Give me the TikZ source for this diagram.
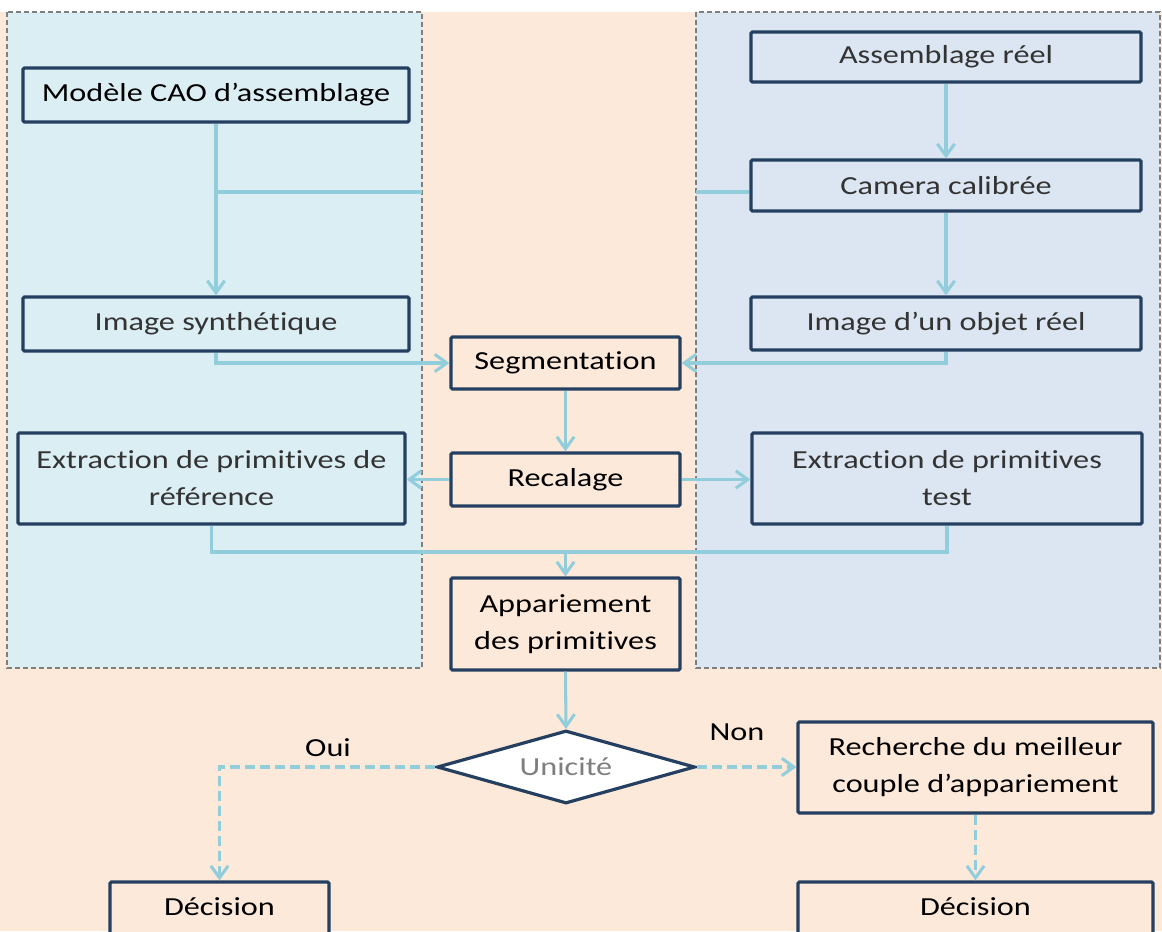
\documentclass[tikz,border=0pt]{standalone}
\usepackage{fontspec}
\setmainfont{Carlito}[FakeStretch=1.24, Ligatures=NoCommon]
\usetikzlibrary{arrows.meta,shapes.geometric}
\definecolor{peach}{HTML}{FDE9D9}
\definecolor{lblue}{HTML}{DAEEF3}
\definecolor{lgray}{HTML}{DCE6F2}
\definecolor{navy}{HTML}{243F60}
\definecolor{conn}{HTML}{92CDDC}
\definecolor{panelline}{HTML}{7F7F7F}
\definecolor{txtgray}{HTML}{333333}
\begin{document}
\begin{tikzpicture}[x=0.75pt,y=-0.75pt,
  box/.style={draw=navy, line width=2.4pt, rounded corners=1pt, inner sep=0pt,
    align=center, font=\fontsize{19.5}{27.75}\selectfont},
  panel/.style={draw=panelline, line width=1.3pt, dash pattern=on 4pt off 2pt},
  link/.style={draw=conn, line width=2.3pt},
  arr/.style={link, -{Straight Barb[length=9pt,width=13pt,line width=2.3pt]}},
  darr/.style={arr, dash pattern=on 7.5pt off 3.75pt},
  lbl/.style={font=\fontsize{19.5}{24}\selectfont, inner sep=0pt}
]
\useasboundingbox (0,0) rectangle (1162,931);
\clip (0,0) rectangle (1162,931);
\fill[white] (0,0) rectangle (1162,931);
\fill[peach] (0,12) rectangle (1162,931);
\filldraw[panel, fill=lblue] (7,12) rectangle (422,668);
\filldraw[panel, fill=lgray] (696,12) rectangle (1160,668);

% left column
\node[box, fill=lblue, minimum width=289.5pt, minimum height=40.5pt] (cao) at (216,95) {Modèle CAO d’assemblage};
\node[box, fill=lblue, text=txtgray, minimum width=289.5pt, minimum height=40.5pt] (synth) at (216,324) {Image synthétique};
\node[box, fill=lblue, text=txtgray, minimum width=290.25pt, minimum height=68.25pt] (extref) at (211.5,478.5) {Extraction de primitives de\\référence};

% right column
\node[box, fill=lgray, text=txtgray, minimum width=292.5pt, minimum height=37.5pt] (assemb) at (946,57) {Assemblage réel};
\node[box, fill=lgray, text=txtgray, minimum width=292.5pt, minimum height=38.25pt] (camera) at (946,185.5) {Camera calibrée};
\node[box, fill=lgray, text=txtgray, minimum width=292.5pt, minimum height=39.75pt] (objet) at (946,323.5) {Image d’un objet réel};
\node[box, fill=lgray, text=txtgray, minimum width=292.5pt, minimum height=68.25pt] (exttest) at (947,478.5) {Extraction de primitives\\test};

% centre column
\node[box, fill=peach, minimum width=171.75pt, minimum height=39pt] (seg) at (565.5,363) {Segmentation};
\node[box, fill=peach, minimum width=171.75pt, minimum height=39.75pt] (recal) at (565.5,479.5) {Recalage};
\node[box, fill=peach, minimum width=171.75pt, minimum height=69pt] (appar) at (565.5,624) {Appariement\\des primitives};
\node[diamond, draw=navy, line width=2.4pt, fill=white, inner sep=0pt, shape aspect=3.5,
  minimum width=193.5pt, minimum height=54.75pt, text=panelline,
  font=\fontsize{19.5}{24}\selectfont] (diam) at (566,767) {Unicité};

% bottom
\node[box, fill=peach, minimum width=266.25pt, minimum height=68.25pt] (rech) at (975.5,767.5) {Recherche du meilleur\\couple d’appariement};
\node[box, fill=peach, minimum width=266.25pt, minimum height=42pt] (dec2) at (975.5,910) {};
\node[lbl] (dec2t) at (975.5,907) {Décision};
\node[box, fill=peach, minimum width=164.25pt, minimum height=42pt] (dec1) at (219.5,910) {};
\node[lbl] (dec1t) at (219.5,907) {Décision};

\node[lbl] (oui) at (328,748) {Oui};
\node[lbl] (non) at (737,732) {Non};

% junction coordinates
\coordinate (j1) at (216,192);
\coordinate (lpe) at (422,192);
\coordinate (rpe) at (696,192);
\coordinate (j2) at (565.5,552);

% connectors
\draw[arr] (cao.south) -- (synth.north);
\draw[link] (j1) -- (lpe);
\draw[link] (camera.west |- rpe) -- (rpe);
\draw[arr] (assemb.south) -- (camera.north);
\draw[arr] (camera.south) -- (objet.north);
\draw[arr] (synth.south) |- (seg.west);
\draw[arr] (objet.south) |- (seg.east);
\draw[arr] (seg.south) -- (recal.north);
\draw[arr] (recal.west) -- (extref.east |- recal.west);
\draw[arr] (recal.east) -- (exttest.west |- recal.east);
\draw[link] (extref.south) |- (j2) -| (exttest.south);
\draw[arr] (j2) -- (appar.north);
\draw[arr] (appar.south) -- (diam.north);
\draw[darr] (diam.west) -| (dec1.north);
\draw[darr] (diam.east) -- (rech.west |- diam.east);
\draw[darr] (rech.south) -- (dec2.north);
\end{tikzpicture}
\end{document}
